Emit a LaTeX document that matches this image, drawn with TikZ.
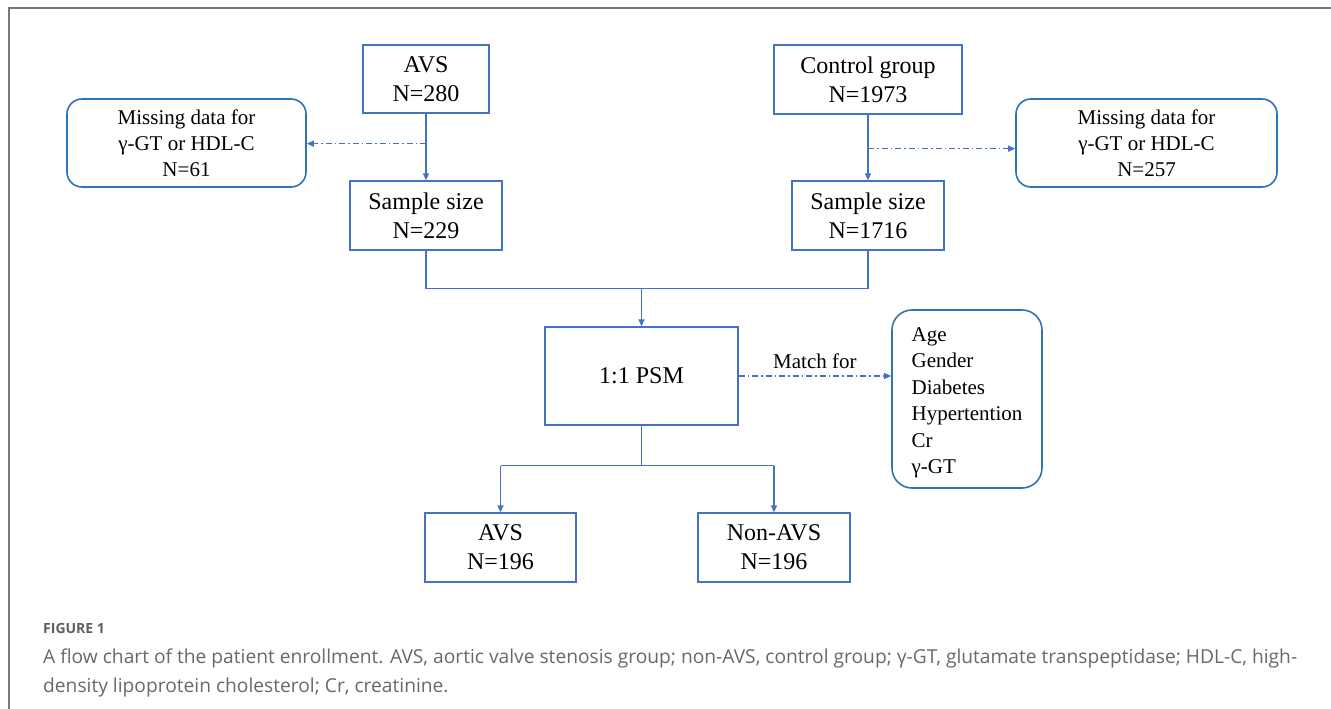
\documentclass[tikz,border=0pt]{standalone}
\usepackage{fontspec}
\setmainfont{Liberation Serif}
\newfontfamily\capfont{Open Sans}
\usetikzlibrary{arrows.meta,calc}
\definecolor{boxblue}{RGB}{68,114,196}
\definecolor{roundblue}{RGB}{46,117,182}
\definecolor{framegray}{RGB}{120,120,120}
\definecolor{capgray}{RGB}{105,105,105}
\definecolor{figgray}{RGB}{95,95,95}
\begin{document}
\begin{tikzpicture}[x=1pt,y=-1pt,
  sq/.style={draw=boxblue, line width=1.3pt, align=center, inner sep=0pt, font=\fontsize{24}{29}\selectfont},
  rb/.style={draw=roundblue, line width=1.6pt, rounded corners=15pt, align=center, inner sep=0pt, font=\fontsize{21}{26}\selectfont},
  conn/.style={draw=boxblue, line width=1.3pt},
  arr/.style={conn, -{Triangle[length=7pt,width=6pt]}},
  dasharr/.style={arr, dash pattern=on 6pt off 3pt on 1.5pt off 3pt},
  lbl/.style={font=\fontsize{21}{26}\selectfont, inner sep=1pt},
  captext/.style={font=\capfont\fontsize{19.2}{29}\selectfont, text=capgray, inner sep=0pt, anchor=base west}
]
\useasboundingbox (0,0) rectangle (1331,709);
\fill[white] (0,0) rectangle (1331,709);
\draw[framegray, line width=1.5pt] (9,709) -- (9,8) -- (1331,8);

% top row
\node[sq, minimum width=126pt, minimum height=68pt] (avs) at (426,79) {AVS\\N=280};
\node[sq, minimum width=188pt, minimum height=69pt] (ctrl) at (868,79.5) {Control group\\N=1973};
\node[rb, minimum width=239pt, minimum height=88pt] (lmiss) at (186.5,143) {Missing data for\\γ-GT or HDL-C\\N=61};
\node[rb, minimum width=261pt, minimum height=88pt] (rmiss) at (1146.5,143) {Missing data for\\γ-GT or HDL-C\\N=257};
\node[sq, minimum width=152pt, minimum height=69pt] (ls) at (426,215.5) {Sample size\\N=229};
\node[sq, minimum width=152pt, minimum height=69pt] (rs) at (868,215.5) {Sample size\\N=1716};

% middle
\node[sq, minimum width=193pt, minimum height=98pt] (psm) at (641.5,376) {1:1 PSM};
\node[rb, rounded corners=20pt, align=left, minimum width=150pt, minimum height=178pt,
      font=\fontsize{21}{26.5}\selectfont] (match) at (967,399) {};
\node[font=\fontsize{21}{26.5}\selectfont, align=left, inner sep=0pt] (mtext) at (967,403)
  {Age\\Gender\\Diabetes\\Hypertention\\Cr\\γ-GT};

% bottom
\node[sq, minimum width=151pt, minimum height=69pt] (oavs) at (500.5,547.5) {AVS\\N=196};
\node[sq, minimum width=152pt, minimum height=69pt] (onon) at (774,547.5) {Non-AVS\\N=196};

% connectors
\draw[arr] (avs) -- (ls);
\path (avs.south) ++(0,30) coordinate (lj);
\draw[dasharr] (lj) -- (lj -| lmiss.east);
\draw[arr] (ctrl) -- (rs);
\path (ctrl.south) ++(0,34) coordinate (rj);
\draw[dasharr] (rj) -- (rj -| rmiss.west);

\draw[conn] (ls.south) -- ++(0,38) coordinate (m1) -| (rs.south);
\draw[arr] (m1 -| psm.north) -- (psm.north);

\draw[dasharr] (psm.east) -- (psm.east -| match.west) node[lbl, midway, above=6pt] (mlbl) {Match for};

\draw[conn] (psm.south) -- ++(0,40) coordinate (m2);
\draw[conn] (m2 -| oavs.north) -- (m2 -| onon.north);
\draw[arr] (m2 -| oavs.north) -- (oavs.north);
\draw[arr] (m2 -| onon.north) -- (onon.north);

% caption
\node[anchor=base west, font=\capfont\fontsize{14}{16}\selectfont\bfseries, text=figgray, inner sep=0pt] (fig) at (43,633) {FIGURE 1};
\node[captext] (capa) at (43,663) {A flow chart of the patient enrollment. AVS, aortic valve stenosis group; non-AVS, control group; γ-GT, glutamate transpeptidase; HDL-C, high-};
\node[captext] (capb) at (43,692) {density lipoprotein cholesterol; Cr, creatinine.};
\end{tikzpicture}
\end{document}
